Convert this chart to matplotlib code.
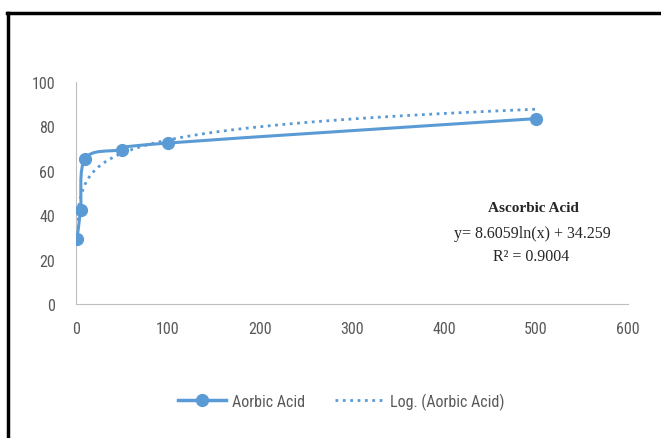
import numpy as np
import matplotlib.pyplot as plt
from matplotlib.path import Path
from matplotlib.patches import PathPatch
from matplotlib.lines import Line2D
from matplotlib import font_manager

# data
conc = [1, 5, 10, 50, 100, 500]
inhib = [29.5, 42.5, 65.5, 69.5, 72.5, 83.5]
fit_a, fit_b = 8.6059, 34.259
r2 = 0.9004
xticks = [0, 100, 200, 300, 400, 500, 600]
yticks = [0, 20, 40, 60, 80, 100]

blue = '#5B9BD5'
grey_txt = '#595959'
installed = {f.name for f in font_manager.fontManager.ttflist}
narrow = [f for f in ['Liberation Sans Narrow', 'DejaVu Sans Condensed', 'Roboto Condensed']
          if f in installed] + ['DejaVu Sans']
serif = ['Liberation Serif', 'DejaVu Serif']

fig = plt.figure(figsize=(6.61, 4.39), dpi=100)
ax = fig.add_axes([76 / 661, 1 - 305 / 439, (628 - 76) / 661, (305 - 83) / 439])

# smoothed line (Catmull-Rom style bezier through the points, like Excel)
px, py = np.array(conc, float), np.array(inhib, float)
verts = [(px[0], py[0])]
codes = [Path.MOVETO]
for i in range(len(px) - 1):
    p0 = (px[max(i - 1, 0)], py[max(i - 1, 0)])
    p1 = (px[i], py[i])
    p2 = (px[i + 1], py[i + 1])
    p3 = (px[min(i + 2, len(px) - 1)], py[min(i + 2, len(px) - 1)])
    t = 1 / 6
    c1 = (p1[0] + (p2[0] - p0[0]) * t, p1[1] + (p2[1] - p0[1]) * t)
    c2 = (p2[0] - (p3[0] - p1[0]) * t, p2[1] - (p3[1] - p1[1]) * t)
    verts += [c1, c2, p2]
    codes += [Path.CURVE4] * 3
ax.add_patch(PathPatch(Path(verts, codes), facecolor='none', edgecolor=blue, lw=2.2, zorder=3))
ax.plot(conc, inhib, 'o', color=blue, ms=8.5, zorder=4)

xs = np.linspace(1, 500, 400)
ax.plot(xs, fit_a * np.log(xs) + fit_b, ':', color=blue, lw=2, zorder=2)

ax.set_xlim(0, 600)
ax.set_ylim(0, 100)
ax.set_xticks(xticks)
ax.set_yticks(yticks)
for s in ['top', 'right']:
    ax.spines[s].set_visible(False)
for s in ['left', 'bottom']:
    ax.spines[s].set_color('#BFBFBF')
ax.tick_params(length=0, colors=grey_txt, labelsize=11.5, pad=12)
ax.tick_params(axis='y', pad=15)
for lab in ax.get_xticklabels() + ax.get_yticklabels():
    lab.set_family(narrow)

fig.text(533 / 661, 1 - 209 / 439, 'Ascorbic Acid', family=serif, fontweight='bold',
         fontsize=11, ha='center', va='center', color='#262626')
fig.text(532 / 661, 1 - 234 / 439, 'y= 8.6059ln(x) + 34.259', family=serif,
         fontsize=11.5, ha='center', va='center', color='#262626')
fig.text(531 / 661, 1 - 257 / 439, 'R² = %.4f' % r2, family=serif,
         fontsize=11.5, ha='center', va='center', color='#262626')

handles = [Line2D([], [], color=blue, lw=2.5, marker='o', ms=8.5),
           Line2D([], [], color=blue, lw=2, ls=':')]
leg = fig.legend(handles, ['Aorbic Acid', 'Log. (Aorbic Acid)'], loc='center',
                 bbox_to_anchor=(341 / 661, 1 - 402 / 439), ncol=2, frameon=False,
                 prop={'family': narrow, 'size': 11.5}, handlelength=3.0,
                 columnspacing=1.9, handletextpad=0.4)
for t in leg.get_texts():
    t.set_color(grey_txt)

# figure border (top and left edges visible in the crop)
fig.add_artist(Line2D([8 / 661, 8 / 661], [0, 1 - 14 / 439], color='black', lw=2.5,
                      transform=fig.transFigure))
fig.add_artist(Line2D([7 / 661, 1], [1 - 14 / 439, 1 - 14 / 439], color='black', lw=2.5,
                      transform=fig.transFigure))

fig.savefig('out.png', dpi=100)
